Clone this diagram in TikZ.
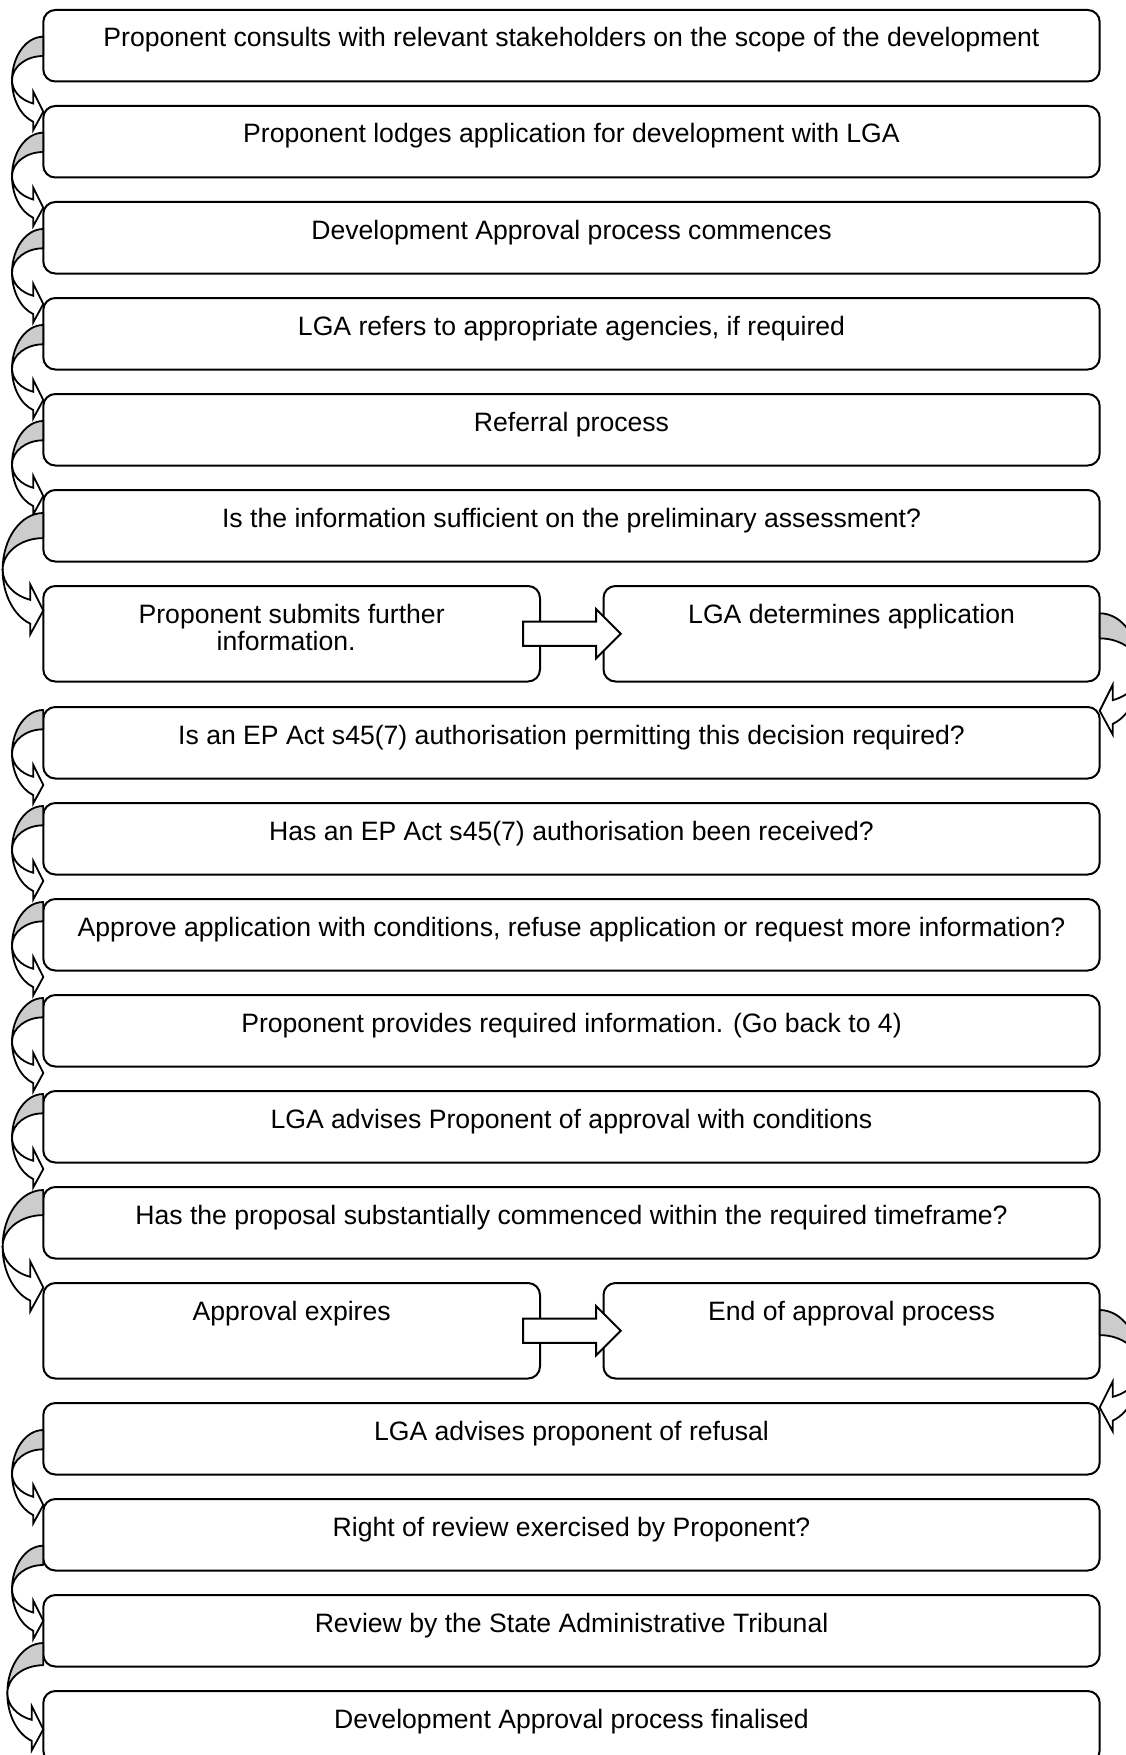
\documentclass[tikz,border=0pt]{standalone}
\usepackage{fontspec}
\setmainfont{Liberation Sans}
\usetikzlibrary{calc}
\tikzset{
  box/.style={draw, line width=2pt, rounded corners=12pt, inner sep=0pt, outer sep=0pt,
    minimum width=1056.4pt, minimum height=71.5pt, fill=white},
  halfl/.style={box, minimum width=496.7pt},
  halfr/.style={box, minimum width=496.2pt},
  tall/.style={minimum height=95.5pt},
  txt/.style={inner sep=0pt, outer sep=0pt, font=\fontsize{26.6}{27.5}\selectfont, anchor=base, align=center},
  arrback/.style={draw, line width=1.8pt, fill=gray!40, line join=round},
  arrfront/.style={draw, line width=1.8pt, fill=white, line join=miter},
  blockarr/.style={draw, line width=2pt, fill=white, line join=miter},
}
% curved arrow on the left of a box: #1 box name, #2 offset below box top, #3 scale
\newcommand{\bendL}[3]{%
  \begin{scope}[shift={($(#1.north west)+(0,#2)$)}, scale=#3]
    \path[arrback] (0,0) arc[start angle=270, end angle=180, x radius=31.3, y radius=43.7]
      arc[start angle=180, end angle=270, x radius=31.3, y radius=24.4] -- cycle;
    \path[arrfront] (-31.3,43.7) arc[start angle=180, end angle=108.7, x radius=31.3, y radius=43.7]
      -- (-10,93.3) -- (0,75) -- (-10,55) -- (-10,66.8)
      arc[start angle=108.7, end angle=180, x radius=31.3, y radius=24.4] -- cycle;
  \end{scope}}
% mirrored curved arrow on the right of a box
\newcommand{\bendR}[3]{%
  \begin{scope}[shift={($(#1.north east)+(0,#2)$)}, xscale=-#3, yscale=#3]
    \path[arrback] (0,0) arc[start angle=270, end angle=180, x radius=31.3, y radius=43.7]
      arc[start angle=180, end angle=270, x radius=31.3, y radius=24.4] -- cycle;
    \path[arrfront] (-31.3,43.7) arc[start angle=180, end angle=108.7, x radius=31.3, y radius=43.7]
      -- (-10,93.3) -- (0,75) -- (-10,55) -- (-10,66.8)
      arc[start angle=108.7, end angle=180, x radius=31.3, y radius=24.4] -- cycle;
  \end{scope}}
% block arrow from a left half box to the right half box
\newcommand{\blockR}[1]{%
  \begin{scope}[shift={(#1.east)}]
    \path[blockarr] (-17,-12.2) -- (56,-12.2) -- (56,-24.7) -- (80.7,0) -- (56,24.7)
      -- (56,12.2) -- (-17,12.2) -- cycle;
  \end{scope}}
\begin{document}
\begin{tikzpicture}[x=1pt, y=-1pt]
\useasboundingbox (0,0) rectangle (1125,1755);
% boxes
\node[box] (b1) at (571.5,45.75) {};
\node[box] (b2) at (571.5,141.75) {};
\node[box] (b3) at (571.5,237.75) {};
\node[box] (b4) at (571.5,333.75) {};
\node[box] (b5) at (571.5,429.75) {};
\node[box] (b6) at (571.5,525.75) {};
\node[halfl, tall] (b7l) at (291.65,633.75) {};
\node[halfr, tall] (b7r) at (851.6,633.75) {};
\node[box] (b8) at (571.5,742.75) {};
\node[box] (b9) at (571.5,838.75) {};
\node[box] (b10) at (571.5,934.75) {};
\node[box] (b11) at (571.5,1030.75) {};
\node[box] (b12) at (571.5,1126.75) {};
\node[box] (b13) at (571.5,1222.75) {};
\node[halfl, tall] (b14l) at (291.65,1330.75) {};
\node[halfr, tall] (b14r) at (851.6,1330.75) {};
\node[box] (b15) at (571.5,1438.75) {};
\node[box] (b16) at (571.5,1534.75) {};
\node[box] (b17) at (571.5,1630.75) {};
\node[box] (b18) at (571.5,1726.75) {};
% texts
\node[txt] (t1) at ($(b1.north)+(0,37)$) {Proponent consults with relevant stakeholders on the scope of the development};
\node[txt] (t2) at ($(b2.north)+(0,37)$) {Proponent lodges application for development with LGA};
\node[txt] (t3) at ($(b3.north)+(0,37)$) {Development Approval process commences};
\node[txt] (t4) at ($(b4.north)+(0,37)$) {LGA refers to appropriate agencies, if required};
\node[txt] (t5) at ($(b5.north)+(0,37)$) {Referral process};
\node[txt] (t6) at ($(b6.north)+(0,37)$) {Is the information sufficient on the preliminary assessment?};
\node[txt, anchor=north] (t7l) at ($(b7l.north)+(0,18)$) {Proponent submits further\\information.\hspace*{11pt}};
\node[txt] (t7r) at ($(b7r.north)+(0,37)$) {LGA determines application};
\node[txt] (t8) at ($(b8.north)+(0,37)$) {Is an EP Act s45(7) authorisation permitting this decision required?};
\node[txt] (t9) at ($(b9.north)+(0,37)$) {Has an EP Act s45(7) authorisation been received?};
\node[txt] (t10) at ($(b10.north)+(0,37)$) {Approve application with conditions, refuse application or request more information?};
\node[txt] (t11) at ($(b11.north)+(0,37)$) {Proponent provides required information. (Go back to 4)};
\node[txt] (t12) at ($(b12.north)+(0,37)$) {LGA advises Proponent of approval with conditions};
\node[txt] (t13) at ($(b13.north)+(0,37)$) {Has the proposal substantially commenced within the required timeframe?};
\node[txt] (t14l) at ($(b14l.north)+(0,37)$) {Approval expires};
\node[txt] (t14r) at ($(b14r.north)+(0,37)$) {End of approval process};
\node[txt] (t15) at ($(b15.north)+(0,37)$) {LGA advises proponent of refusal};
\node[txt] (t16) at ($(b16.north)+(0,37)$) {Right of review exercised by Proponent?};
\node[txt] (t17) at ($(b17.north)+(0,37)$) {Review by the State Administrative Tribunal};
\node[txt] (t18) at ($(b18.north)+(0,37)$) {Development Approval process finalised};
% block arrows
\blockR{b7l}
\blockR{b14l}
% curved arrows
\bendL{b1}{26.7}{1}
\bendL{b2}{26.7}{1}
\bendL{b3}{27}{1}
\bendL{b4}{27}{1}
\bendL{b5}{27}{1}
\bendL{b6}{23}{1.3}
\bendR{b7r}{27.3}{1.3}
\bendL{b8}{3}{1}
\bendL{b9}{3}{1}
\bendL{b10}{3}{1}
\bendL{b11}{3}{1}
\bendL{b12}{3}{1}
\bendL{b13}{3}{1.3}
\bendR{b14r}{27}{1.3}
\bendL{b15}{27}{1}
\bendL{b16}{46.7}{1}
\bendL{b17}{48}{1.15}
\end{tikzpicture}
\end{document}
